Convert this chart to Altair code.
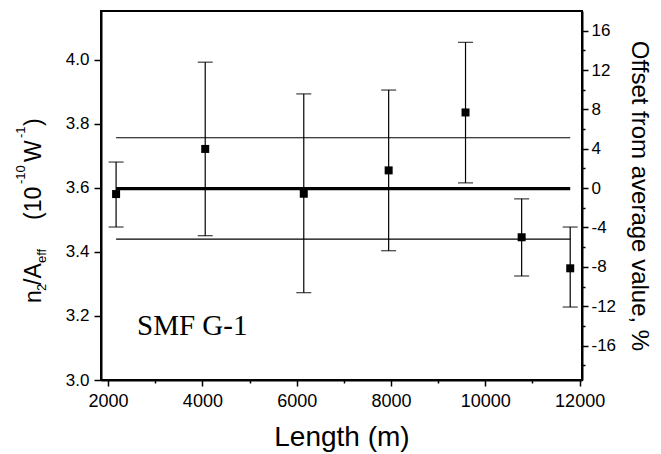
import altair as alt
import pandas as pd

# ---- data ----
length_m = [2170, 4060, 6150, 7950, 9580, 10770, 11800]
n2_aeff = [3.581, 3.722, 3.582, 3.655, 3.836, 3.446, 3.349]
err_hi = [3.681, 3.993, 3.894, 3.906, 4.055, 3.566, 3.478]
err_lo = [3.478, 3.451, 3.273, 3.404, 3.616, 3.325, 3.228]

ref_levels = [3.757, 3.598, 3.440]   # +4.4 %, average, -4.4 %
ref_widths = [1.2, 3.2, 1.2]
ref_start = [2170, 2170, 2170]
ref_end = [11800, 11800, 11800]

x_ticks = list(range(2000, 12001, 1000))
y_ticks = [round(3.0 + 0.1 * i, 1) for i in range(12)]
off_ticks = list(range(-18, 17, 2))

FONT = "Liberation Sans"
SERIF = "Liberation Serif"

df = pd.DataFrame({"length": length_m, "value": n2_aeff, "hi": err_hi, "lo": err_lo})
lines_df = pd.DataFrame({"level": ref_levels, "w": ref_widths, "x0": ref_start, "x1": ref_end})
off_df = pd.DataFrame({"off": off_ticks})

x_scale = alt.Scale(domain=[1850, 12050], nice=False, zero=False)
y_scale = alt.Scale(domain=[3.0, 4.153], nice=False, zero=False)
off_scale = alt.Scale(domain=[-19.5, 18.0], nice=False, zero=False)

x_axis = alt.Axis(
    values=x_ticks, format="d",
    labelExpr="datum.value % 2000 == 0 ? datum.label : ''",
    tickSize={"condition": {"test": "datum.value % 2000 == 0", "value": 6}, "value": 3},
    title="Length (m)", titleFont=FONT, titleFontSize=28, titleFontWeight="normal",
    titleColor="black", titlePadding=13,
    grid=False, domainColor="black", domainWidth=2, tickColor="black", tickWidth=1.5,
    labelFont=FONT, labelFontSize=18, labelColor="black", labelPadding=6,
    labelFlush=False, labelOverlap=False,
)
y_axis = alt.Axis(
    values=y_ticks, format=".1f",
    labelExpr="round(datum.value * 10) % 2 == 0 ? datum.label : ''",
    tickSize={"condition": {"test": "round(datum.value * 10) % 2 == 0", "value": 7}, "value": 4},
    title=None,
    grid=False, domainColor="black", domainWidth=2, tickColor="black", tickWidth=1.5,
    labelFont=FONT, labelFontSize=17, labelColor="black", labelPadding=5,
    labelFlush=False, labelOverlap=False,
)
off_axis = alt.Axis(
    orient="right", values=off_ticks,
    labelExpr="datum.value % 4 == 0 ? '' + datum.value : ''",
    tickSize={"condition": {"test": "datum.value % 4 == 0", "value": 6}, "value": 3},
    title="Offset from average value, %", titleFont=FONT, titleFontSize=24,
    titleFontWeight="normal", titleColor="black", titlePadding=11,
    grid=False, domainColor="black", domainWidth=2, tickColor="black", tickWidth=1.5,
    labelFont=FONT, labelFontSize=17, labelColor="black", labelPadding=3,
    labelFlush=False, labelOverlap=False,
)

X = alt.X("length:Q", scale=x_scale, axis=x_axis)

bars = alt.Chart(df).mark_rule(color="black", strokeWidth=1.2).encode(
    x=X, y=alt.Y("lo:Q", scale=y_scale, axis=y_axis), y2="hi:Q")
cap_hi = alt.Chart(df).mark_tick(color="black", thickness=1.3, size=15, orient="horizontal").encode(
    x=X, y=alt.Y("hi:Q", scale=y_scale))
cap_lo = alt.Chart(df).mark_tick(color="black", thickness=1.3, size=15, orient="horizontal").encode(
    x=X, y=alt.Y("lo:Q", scale=y_scale))
ref = alt.Chart(lines_df).mark_rule(color="black").encode(
    x=alt.X("x0:Q", scale=x_scale), x2="x1:Q",
    y=alt.Y("level:Q", scale=y_scale),
    strokeWidth=alt.StrokeWidth("w:Q", scale=None, legend=None))
pts = alt.Chart(df).mark_square(size=64, color="black", opacity=1).encode(
    x=X, y=alt.Y("value:Q", scale=y_scale))

left = alt.layer(bars, cap_hi, cap_lo, ref, pts)

right = alt.Chart(off_df).mark_point(opacity=0).encode(
    y=alt.Y("off:Q", scale=off_scale, axis=off_axis))

one = alt.Data(values=[{"a": 1}])

def piece(txt, x, y, size, font=FONT):
    return alt.Chart(one).mark_text(
        text=txt, angle=270, align="left", baseline="alphabetic",
        font=font, fontSize=size, color="black"
    ).encode(x=alt.value(x), y=alt.value(y))

MAIN, SMALL = 23, 13
xb, xs, xp = -60, -55, -76
title_parts = [
    piece("n", xb, 292, MAIN),
    piece("2", xs, 280, SMALL),
    piece("/A", xb, 274, MAIN),
    piece("eff", xs, 252, SMALL),
    piece("(10", xb, 209, MAIN),
    piece("-10", xp, 173, SMALL),
    piece("W", xb, 151, MAIN),
    piece("-1", xp, 127, SMALL),
    piece(")", xb, 115, MAIN),
]

label = alt.Chart(one).mark_text(
    text="SMF G-1", align="left", baseline="alphabetic",
    font=SERIF, fontSize=29, color="black"
).encode(x=alt.value(36), y=alt.value(324))

chart = alt.layer(
    alt.layer(left, right).resolve_scale(y="independent"),
    label, *title_parts
).properties(
    width=481, height=369,
    padding={"left": 93, "top": 3, "right": 71, "bottom": 72},
    autosize=alt.AutoSizeParams(type="none"),
    background="white",
).configure_view(stroke="black", strokeWidth=2)

chart.save("out.html", embed_options={"renderer": "svg", "actions": False})
